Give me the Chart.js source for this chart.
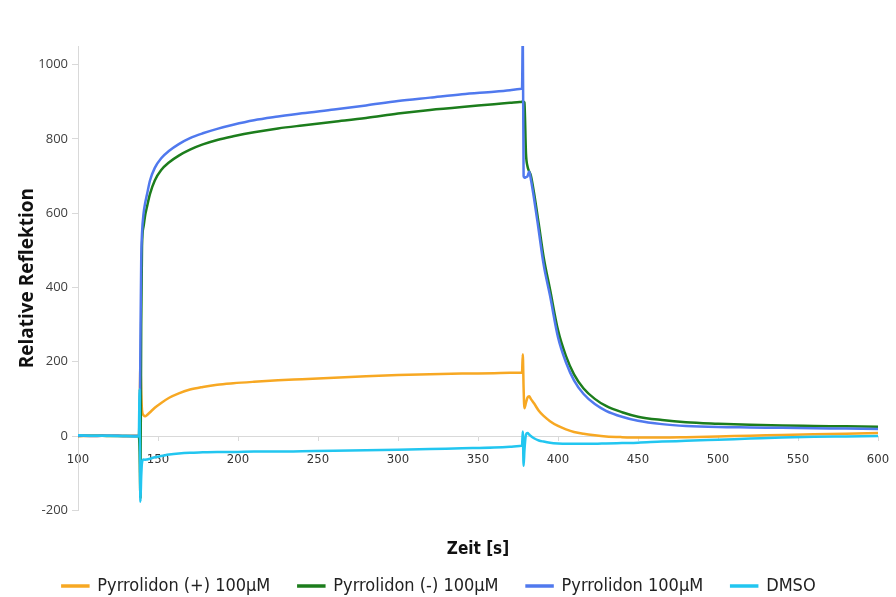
<!DOCTYPE html>
<html>
<head>
<meta charset="utf-8">
<script src="https://cdn.jsdelivr.net/npm/chart.js@4/dist/chart.umd.min.js"></script>
<style>
  html, body { margin: 0; padding: 0; background: #fff; }
  #wrap { width: 896px; height: 597px; }
</style>
</head>
<body>
<div id="wrap"><canvas id="chart" width="896" height="597"></canvas></div>
<script>
// time points (s), denser around the two injection spikes
const times = [100, 110, 120, 130, 137, 138, 138.5, 139, 139.5, 140, 141, 142, 143, 145, 148, 152, 157, 163, 170, 178,
  187, 197, 210, 225, 240, 260, 280, 300, 320, 340, 360, 370, 376, 377.5, 378, 378.5, 379, 380, 381, 382,
  383, 385, 388, 391, 395, 400, 405, 410, 416, 423, 430, 440, 450, 465, 480, 500, 520, 540, 560, 580, 600];

const plusValues = [0, 0, 1, 0, 0, 0, 60, 193, 120, 70, 56, 53, 56, 64, 76, 89, 103, 115, 125, 132,
  138, 142, 146, 150, 153, 157, 161, 164, 166, 168, 169, 170, 170, 171, 220, 130, 75, 90, 104, 107,
  100, 88, 68, 54, 40, 27, 18, 11, 6, 2, -1, -3, -4, -4, -3, -1, 1, 3, 5, 6, 8];

const minusValues = [0, 1, 0, 0, 0, 0, -40, -165, 300, 510, 565, 595, 615, 652, 688, 716, 737, 755, 771, 785,
  797, 807, 818, 828, 836, 846, 856, 868, 878, 886, 893, 897, 899, 900, 901, 900, 898, 760, 725, 712,
  702, 655, 570, 482, 395, 285, 215, 166, 128, 100, 81, 64, 52, 43, 37, 33, 30, 28, 27, 26, 25];

const racemicValues = [1, 0, 1, 0, 0, 0, 0, 250, 470, 545, 600, 628, 648, 688, 722, 748, 768, 786, 802, 815,
  827, 838, 850, 860, 869, 879, 890, 902, 911, 920, 927, 931, 934, 935, 1080, 700, 695, 697, 700, 712,
  692, 640, 552, 462, 378, 266, 198, 150, 113, 86, 68, 52, 41, 32, 27, 24, 23, 22, 21, 20, 19];

const dmsoValues = [2, 1, 1, 0, -1, 0, 126, -177, -110, -72, -63, -64, -63, -61, -57, -54, -50, -47, -45, -44,
  -43, -43, -42, -42, -41, -40, -38, -37, -35, -33, -31, -29, -27, -26, 12, -80, -40, 4, 8, 4,
  0, -6, -12, -15, -18, -20, -21, -21, -21, -21, -20, -19, -18, -15, -13, -10, -7, -4, -2, -1, 0];

const seriesLabels = ["Pyrrolidon (+) 100µM", "Pyrrolidon (-) 100µM", "Pyrrolidon 100µM", "DMSO"];
const seriesColors = ["#f7a823", "#1c7d1c", "#5079ee", "#22c6f0"];
const yTicks = [-200, 0, 200, 400, 600, 800, 1000];

const toPoints = vals => times.map((t, i) => ({ x: t, y: vals[i] }));
const allValues = [plusValues, minusValues, racemicValues, dmsoValues];

// Excel draws the last series on top, so lower order = drawn later
const datasets = allValues.map((vals, i) => ({
  label: seriesLabels[i],
  data: toPoints(vals),
  borderColor: seriesColors[i],
  backgroundColor: seriesColors[i],
  borderWidth: 2.5,
  pointRadius: 0,
  cubicInterpolationMode: "monotone",
  order: allValues.length - i
}));

new Chart(document.getElementById("chart"), {
  type: "line",
  data: { datasets: datasets },
  options: {
    responsive: false,
    animation: false,
    layout: { padding: { top: 46, right: 18, bottom: 0, left: 0 } },
    scales: {
      x: {
        type: "linear",
        position: { y: 0 },
        min: 100,
        max: 600,
        // the axis sits at y = 0, so its label padding should not squeeze the plot
        afterFit: scale => { scale.paddingRight = 0; },
        border: { color: "#d9d9d9", width: 1 },
        grid: { drawOnChartArea: false, color: "#d9d9d9", tickLength: 4 },
        ticks: {
          stepSize: 50,
          padding: 12,
          color: "#333",
          font: { family: "'DejaVu Sans Condensed', 'DejaVu Sans', sans-serif", size: 13 }
        }
      },
      y: {
        min: -200,
        max: 1050,
        afterBuildTicks: scale => { scale.ticks = yTicks.map(v => ({ value: v })); },
        afterFit: scale => { scale.width = 78; },
        border: { color: "#d9d9d9", width: 1 },
        grid: { drawOnChartArea: false, color: "#d9d9d9", tickLength: 6 },
        ticks: {
          padding: 4,
          color: "#404040",
          callback: v => String(v),
          font: { family: "'Open Sans', sans-serif", size: 13 }
        },
        title: {
          display: true,
          text: "Relative Reflektion",
          color: "#111",
          padding: { top: 16, bottom: 0 },
          font: { family: "'Open Sans', sans-serif", size: 19, weight: "bold" }
        }
      }
    },
    plugins: {
      title: {
        display: true,
        position: "bottom",
        fullSize: false,
        text: "Zeit [s]",
        color: "#111",
        padding: { top: 29.4, bottom: -11.1 },
        font: { family: "'DejaVu Sans Condensed', 'DejaVu Sans', sans-serif", size: 17, weight: "bold" }
      },
      legend: {
        position: "bottom",
        weight: 3000,
        maxHeight: 48,
        labels: {
          boxWidth: 26,
          boxHeight: 1,
          padding: 28,
          color: "#222",
          sort: (a, b) => a.datasetIndex - b.datasetIndex,
          font: { family: "'DejaVu Sans Condensed', 'DejaVu Sans', sans-serif", size: 18 }
        }
      },
      tooltip: { enabled: false }
    }
  }
});
</script>
</body>
</html>
